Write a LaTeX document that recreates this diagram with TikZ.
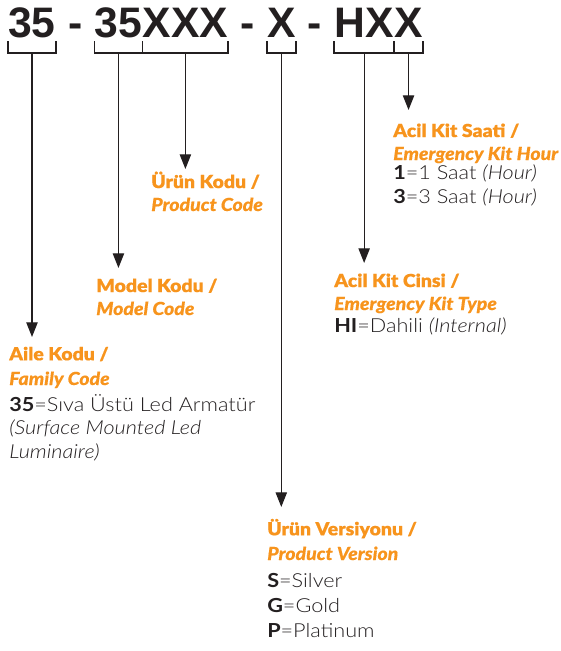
\documentclass[tikz,border=0pt]{standalone}
\usepackage{fontspec}
\setmainfont{Lato}
\newfontfamily\codefont{Liberation Sans}
\newfontfamily\headfont{Lato Black}[FakeStretch=1.08,FakeBold=0.4]
\newfontfamily\bodyfont{Lato Light}[FakeStretch=1.12,BoldFont=Lato Bold]
\usetikzlibrary{arrows.meta,positioning}
\definecolor{kodorange}{HTML}{F7941D}
\definecolor{kodtext}{HTML}{231F20}

\begin{document}
\begin{tikzpicture}[x=0.75pt,y=-0.75pt,
    code/.style={inner sep=0pt,anchor=base west,text=kodtext,
      font=\codefont\bfseries\fontsize{32}{36}\selectfont},
    brace/.style={draw=kodtext,line width=1.3pt},
    stem/.style={draw=kodtext,line width=0.9pt,-{Triangle[length=11pt,width=8.5pt]}},
    head/.style={inner sep=0pt,anchor=base west,align=left,text=kodorange,
      font=\headfont\fontsize{13.5}{17.2}\selectfont},
    body/.style={inner sep=0pt,anchor=base west,align=left,text=kodtext,
      font=\bodyfont\fontsize{14.5}{17.4}\selectfont}]
  \useasboundingbox (0,0) rectangle (561,651);
  % code line
  \node[code] (t1) at (8,37) {35};
  \node[code] (d1) at (t1.base east) {\ -\ \kern0pt};
  \node[code] (t2) at (d1.base east) {35};
  \node[code] (t3) at (t2.base east) {XXX};
  \node[code] (d2) at (t3.base east) {\ -\ \kern0pt};
  \node[code] (t4) at (d2.base east) {X};
  \node[code] (d3) at (t4.base east) {\ -\ \kern0pt};
  \node[code] (t5) at (d3.base east) {HX};
  \node[code] (t6) at (t5.base east) {X};
  % brackets under each part
  \foreach \n in {t1,t2,t3,t4,t5,t6}
    \draw[brace] (\n.west |- 0,41) -- (\n.west |- 0,53) -- (\n.east |- 0,53) -- (\n.east |- 0,41);
  % labels (anchored at the baseline of the last line)
  \node[head] (famhead) at (9,385) {Aile Kodu /\\[1.3pt]\textit{Family Code}};
  \node[body] (fambody) at (9,458) {\textbf{35}=Sıva Üstü Led Armatür\\\textit{(Surface Mounted Led}\\\textit{Luminaire)}};
  \node[head] (modhead) at (96,315) {Model Kodu /\\\textit{Model Code}};
  \node[head] (prohead) at (151,211) {Ürün Kodu /\\\textit{Product Code}};
  \node[head] (verhead) at (267,560) {Ürün Versiyonu /\\[1.3pt]\textit{Product Version}};
  \node[body] (verbody) at (267,637) {\textbf{S}=Silver\\[1.3pt]\textbf{G}=Gold\\[1.3pt]\textbf{P}=Platinum};
  \node[head] (typhead) at (334,310) {Acil Kit Cinsi /\\\textit{Emergency Kit Type}};
  \node[body] (typbody) at (334,332) {\textbf{HI}=Dahili \textit{(Internal)}};
  \node[head] (hrhead) at (393,160) {Acil Kit Saati /\\\textit{Emergency Kit Hour}};
  \node[body] (hrbody) at (393,203) {\textbf{1}=1 Saat \textit{(Hour)}\\\textbf{3}=3 Saat \textit{(Hour)}};
  % arrow tips
  \coordinate (famtip) at (t1.south |- 0,337);
  \coordinate (modtip) at (t2.south |- 0,268);
  \coordinate (protip) at (t3.south |- 0,169);
  \coordinate (vertip) at (t4.south |- 0,507);
  \coordinate (typtip) at (t5.south |- 0,263);
  \coordinate (hrtip) at (t6.south |- 0,110);
  \draw[stem] (t1.south |- 0,53) -- (famtip);
  \draw[stem] (t2.south |- 0,53) -- (modtip);
  \draw[stem] (t3.south |- 0,53) -- (protip);
  \draw[stem] (t4.south |- 0,53) -- (vertip);
  \draw[stem] (t5.south |- 0,53) -- (typtip);
  \draw[stem] (t6.south |- 0,53) -- (hrtip);
\end{tikzpicture}
\end{document}
